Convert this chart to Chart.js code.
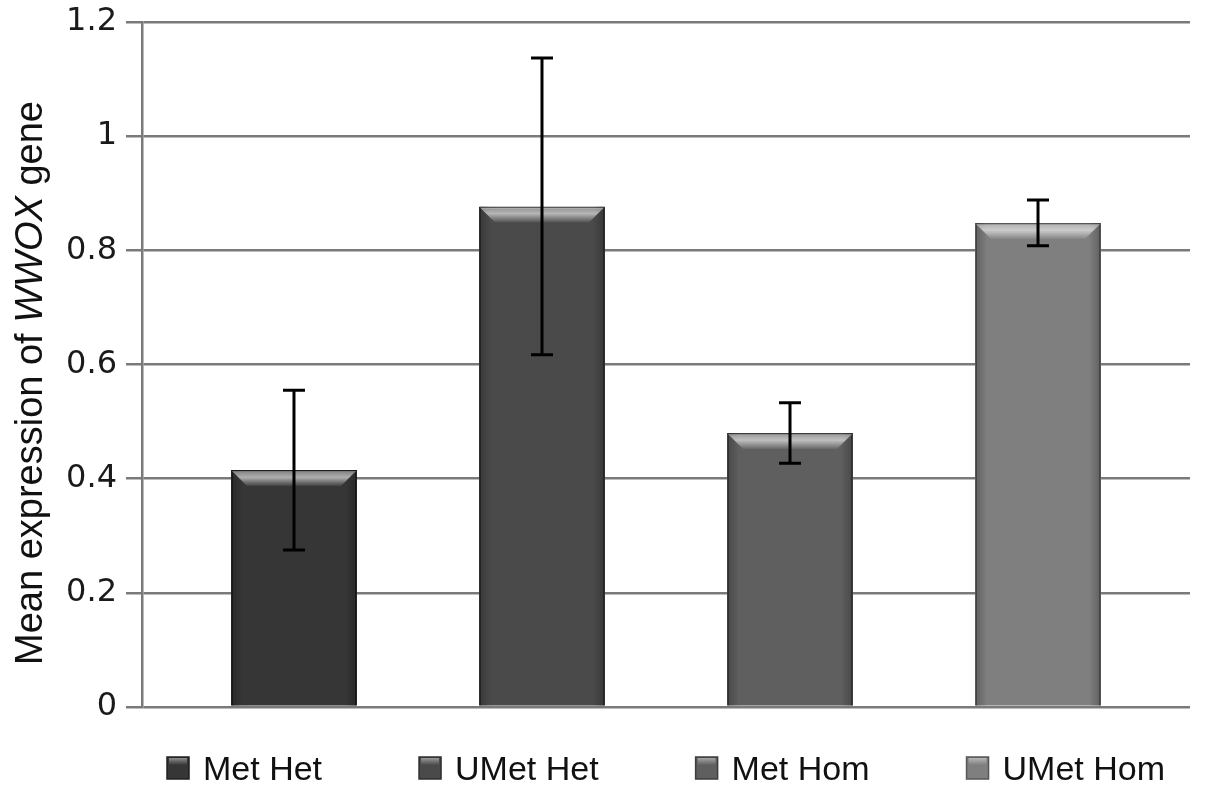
<!DOCTYPE html>
<html>
<head>
<meta charset="utf-8">
<script src="https://cdn.jsdelivr.net/npm/chart.js@4.4.0/dist/chart.umd.min.js"></script>
<style>
  body { margin: 0; background: #fff; }
  #wrap { width: 1205px; height: 793px; }
</style>
</head>
<body>
<div id="wrap"><canvas id="grafica" width="1205" height="793"></canvas></div>
<script>
// Datos
const grupos = ['Met Het', 'UMet Het', 'Met Hom', 'UMet Hom'];
const medias = [0.415, 0.877, 0.48, 0.848];
const errores = [0.14, 0.26, 0.053, 0.04];
const colores = ['#363636', '#4a4a4a', '#5f5f5f', '#7f7f7f'];
const bordes = ['#202020', '#2e2e2e', '#3d3d3d', '#565656'];
const ticksY = [0, 0.2, 0.4, 0.6, 0.8, 1, 1.2];
const etiquetasY = ['0', '0.2', '0.4', '0.6', '0.8', '1', '1.2'];

const ctx = document.getElementById('grafica').getContext('2d');

// Biselado superior de cada barra
const bisel = {
    id: 'bisel',
    afterDatasetsDraw(chart) {
        const c = chart.ctx;
        chart.data.datasets.forEach((ds, i) => {
            const el = chart.getDatasetMeta(i).data[0];
            const izq = el.x - el.width / 2;
            const der = el.x + el.width / 2;
            const arriba = el.y;
            const b = 16;
            c.save();
            // sombra lateral
            let g = c.createLinearGradient(izq, 0, izq + 12, 0);
            g.addColorStop(0, 'rgba(0,0,0,0.25)');
            g.addColorStop(1, 'rgba(0,0,0,0)');
            c.fillStyle = g;
            c.fillRect(izq + 1, arriba, 12, el.base - arriba);
            g = c.createLinearGradient(der - 12, 0, der, 0);
            g.addColorStop(0, 'rgba(0,0,0,0)');
            g.addColorStop(1, 'rgba(0,0,0,0.25)');
            c.fillStyle = g;
            c.fillRect(der - 13, arriba, 12, el.base - arriba);
            // bisel de arriba
            c.beginPath();
            c.moveTo(izq + 1, arriba + 1);
            c.lineTo(der - 1, arriba + 1);
            c.lineTo(der - b, arriba + b);
            c.lineTo(izq + b, arriba + b);
            c.closePath();
            g = c.createLinearGradient(0, arriba, 0, arriba + b);
            g.addColorStop(0, 'rgba(255,255,255,0.35)');
            g.addColorStop(0.45, 'rgba(255,255,255,0.6)');
            g.addColorStop(1, 'rgba(255,255,255,0.05)');
            c.fillStyle = g;
            c.fill();
            c.restore();
        });
    }
};

// Barras de error
const barrasError = {
    id: 'barrasError',
    afterDatasetsDraw(chart) {
        const c = chart.ctx;
        const y = chart.scales.y;
        c.save();
        c.strokeStyle = '#000';
        c.lineWidth = 3;
        chart.data.datasets.forEach((ds, i) => {
            const el = chart.getDatasetMeta(i).data[0];
            const alto = y.getPixelForValue(medias[i] + errores[i]);
            const bajo = y.getPixelForValue(medias[i] - errores[i]);
            c.beginPath();
            c.moveTo(el.x, alto);
            c.lineTo(el.x, bajo);
            c.moveTo(el.x - 11, alto);
            c.lineTo(el.x + 11, alto);
            c.moveTo(el.x - 11, bajo);
            c.lineTo(el.x + 11, bajo);
            c.stroke();
        });
        c.restore();
    }
};

// Título del eje Y con WWOX en cursiva
const tituloY = {
    id: 'tituloY',
    afterDraw(chart) {
        const c = chart.ctx;
        const partes = [
            { t: 'Mean expression of ', f: '38px "Liberation Sans", Arial, sans-serif' },
            { t: 'WWOX', f: 'italic 38px "Liberation Sans", Arial, sans-serif' },
            { t: ' gene', f: '38px "Liberation Sans", Arial, sans-serif' }
        ];
        let total = 0;
        partes.forEach(p => { c.font = p.f; p.w = c.measureText(p.t).width; total += p.w; });
        c.save();
        c.translate(42, 383);
        c.rotate(-Math.PI / 2);
        c.fillStyle = '#111';
        c.textBaseline = 'alphabetic';
        let x = -total / 2;
        partes.forEach(p => {
            c.font = p.f;
            c.fillText(p.t, x, 0);
            x += p.w;
        });
        c.restore();
    }
};

// Leyenda dibujada abajo
const leyenda = {
    id: 'leyenda',
    afterDraw(chart) {
        const c = chart.ctx;
        const area = chart.chartArea;
        c.save();
        c.font = '34px "Liberation Sans", Arial, sans-serif';
        const caja = 22, sep = 14, hueco = 97;
        const anchos = grupos.map(g => caja + sep + c.measureText(g).width);
        const total = anchos.reduce((a, b) => a + b, 0) + hueco * (grupos.length - 1);
        let x = (area.left + area.right) / 2 - total / 2;
        const base = 780;
        grupos.forEach((g, i) => {
            c.fillStyle = colores[i];
            c.fillRect(x, base - 23, caja, caja);
            c.strokeStyle = bordes[i];
            c.lineWidth = 1.5;
            c.strokeRect(x, base - 23, caja, caja);
            const gr = c.createLinearGradient(0, base - 23, 0, base - 15);
            gr.addColorStop(0, 'rgba(255,255,255,0.5)');
            gr.addColorStop(1, 'rgba(255,255,255,0)');
            c.fillStyle = gr;
            c.fillRect(x + 2, base - 22, caja - 4, 7);
            c.fillStyle = '#111';
            c.textBaseline = 'alphabetic';
            c.fillText(g, x + caja + sep, base);
            x += anchos[i] + hueco;
        });
        c.restore();
    }
};

const chart = new Chart(ctx, {
    type: 'bar',
    data: {
        labels: [''],
        datasets: grupos.map((g, i) => ({
            label: g,
            data: [medias[i]],
            backgroundColor: colores[i],
            borderColor: bordes[i],
            borderWidth: 2,
            categoryPercentage: 0.9466,
            barPercentage: 0.508
        }))
    },
    plugins: [bisel, barrasError, tituloY, leyenda],
    options: {
        responsive: false,
        animation: false,
        devicePixelRatio: 1,
        layout: { padding: { left: 50, right: 15, top: 22, bottom: 86 } },
        plugins: {
            legend: { display: false },
            tooltip: { enabled: false }
        },
        scales: {
            x: { display: false },
            y: {
                min: 0,
                max: 1.2,
                afterBuildTicks: (s) => { s.ticks = ticksY.map(v => ({ value: v })); },
                afterFit: (s) => { s.width = 92; s.paddingTop = 0; s.paddingBottom = 0; },
                ticks: {
                    callback: (v, i) => etiquetasY[i],
                    color: '#1a1a1a',
                    font: { family: '"DejaVu Sans", sans-serif', size: 32 },
                    padding: 9
                },
                grid: { color: '#7a7a7a', lineWidth: 2.5, tickLength: 16, tickColor: '#7a7a7a' },
                border: { display: true, color: '#7a7a7a', width: 2.5 }
            }
        }
    }
});
</script>
</body>
</html>
